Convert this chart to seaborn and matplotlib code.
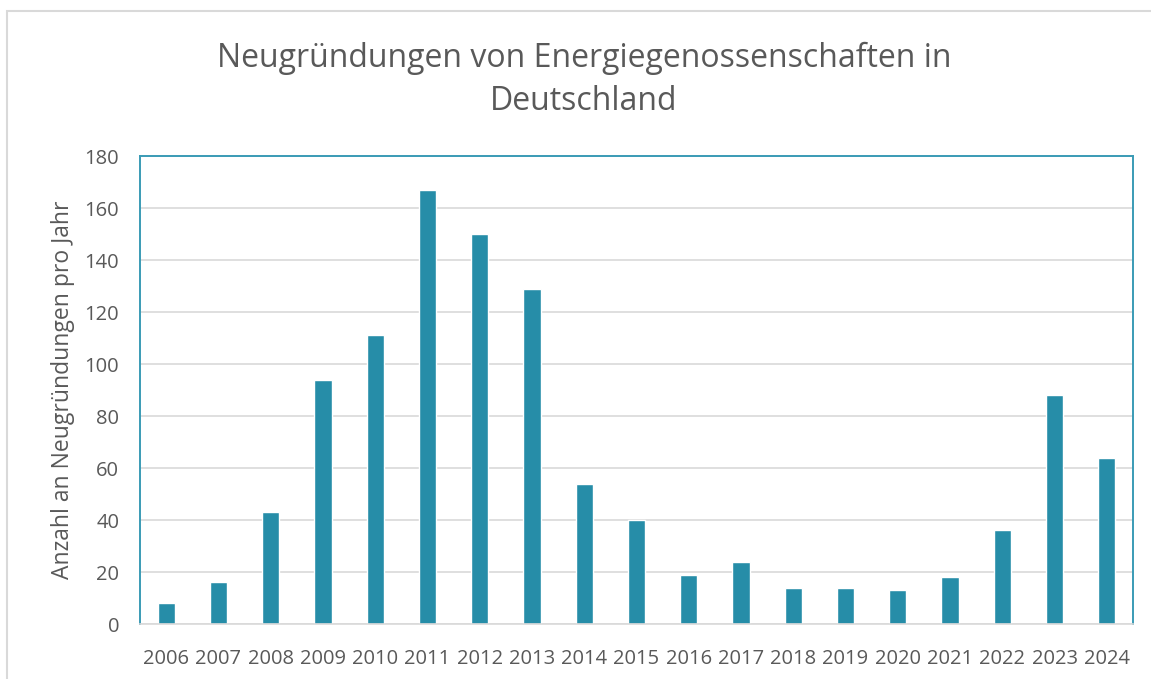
import matplotlib
matplotlib.use('Agg')
import matplotlib.pyplot as plt
from matplotlib.patches import Rectangle
import seaborn as sns
import pandas as pd

# Data
jahre = ['2006', '2007', '2008', '2009', '2010', '2011', '2012', '2013', '2014',
         '2015', '2016', '2017', '2018', '2019', '2020', '2021', '2022', '2023', '2024']
neugruendungen = [8, 16, 43, 94, 111, 167, 150, 129, 54,
                  40, 19, 24, 14, 14, 13, 18, 36, 88, 64]
y_ticks = [0, 20, 40, 60, 80, 100, 120, 140, 160, 180]

df = pd.DataFrame({'Jahr': jahre, 'Anzahl': neugruendungen})

sns.set_style('white')
plt.rcParams['font.family'] = ['Open Sans', 'DejaVu Sans']

text_col = '#595959'
bar_col = '#268DA8'
frame_col = '#3A9BB5'

fig = plt.figure(figsize=(11.51, 6.79), dpi=100)
ax = fig.add_axes([140 / 1151, 1 - 624 / 679, (1133 - 140) / 1151, (624 - 156) / 679])

sns.barplot(data=df, x='Jahr', y='Anzahl', color=bar_col, width=0.33,
            saturation=1, ax=ax)

ax.set_ylim(0, 180)
ax.set_xlim(-0.5, len(jahre) - 0.5)
ax.set_yticks(y_ticks)
ax.yaxis.grid(True, color='#D9D9D9', linewidth=1.2)
ax.set_axisbelow(True)

for side in ['left', 'top', 'right']:
    ax.spines[side].set_color(frame_col)
    ax.spines[side].set_linewidth(1.4)
ax.spines['bottom'].set_color('#D9D9D9')
ax.spines['bottom'].set_linewidth(1.2)

ax.tick_params(axis='both', length=0, labelsize=14.5, labelcolor=text_col)
ax.tick_params(axis='x', pad=18)
ax.tick_params(axis='y', pad=15)
ax.set_xlabel('')
ax.set_ylabel('Anzahl an Neugründungen pro Jahr', fontsize=16.5, color=text_col,
              labelpad=7)

fig.text(584 / 1151, 1 - 80 / 679,
         'Neugründungen von Energiegenossenschaften in\nDeutschland',
         ha='center', va='center', fontsize=23, color=text_col, linespacing=1.4)

# light outer chart frame (left and top edges visible)
fig.patches.append(Rectangle((7 / 1151, -0.1), 1.2, 1 - 11 / 679 + 0.1,
                             transform=fig.transFigure, fill=False,
                             edgecolor='#D9D9D9', linewidth=1.5))

fig.savefig('out.png', dpi=100)
